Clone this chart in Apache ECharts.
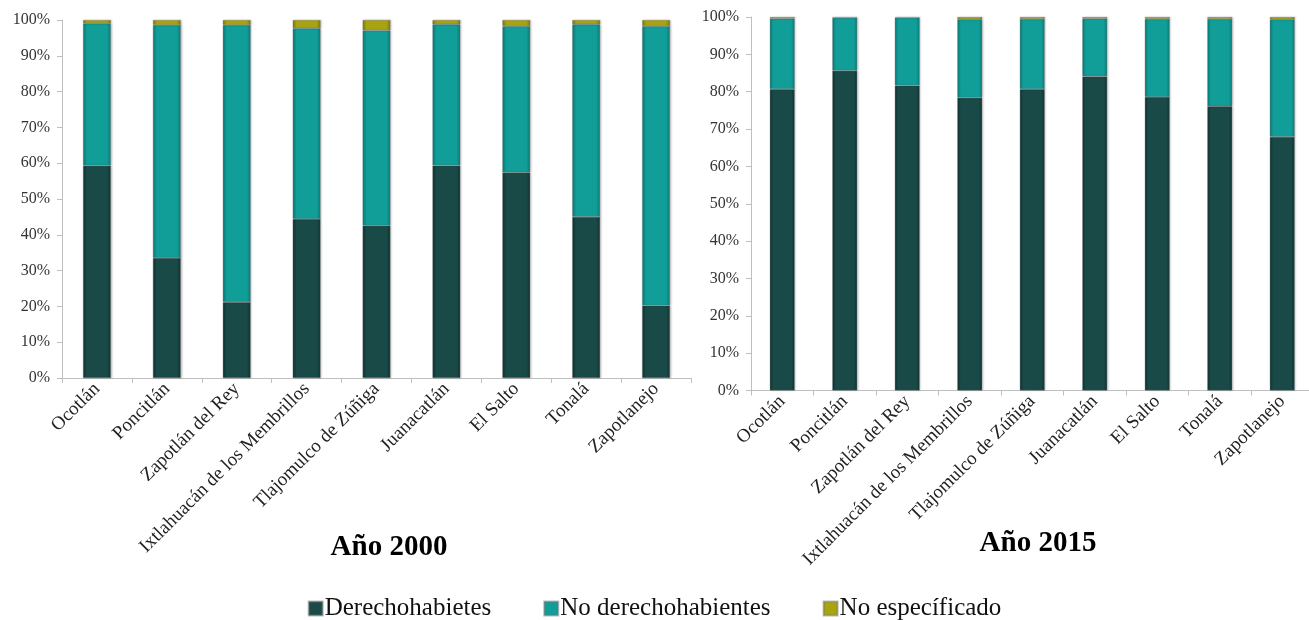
<!DOCTYPE html>
<html>
<head>
<meta charset="utf-8">
<script src="https://cdn.jsdelivr.net/npm/echarts@6/dist/echarts.min.js"></script>
<style>
html,body{margin:0;padding:0;background:#fff;}
#c{width:1309px;height:620px;}
</style>
</head>
<body>
<div id="c"></div>
<script>
const categories = ["Ocotlán","Poncitlán","Zapotlán del Rey","Ixtlahuacán de los Membrillos","Tlajomulco de Zúñiga","Juanacatlán","El Salto","Tonalá","Zapotlanejo"];
const seriesNames = ["Derechohabietes","No derechohabientes","No específicado"];
const titles = ["Año 2000","Año 2015"];
const yTicks = [0,10,20,30,40,50,60,70,80,90,100];

const der2000   = [59.3, 33.5, 21.2, 44.4, 42.6, 59.4, 57.4, 45.0, 20.3];
const noDer2000 = [39.8, 65.1, 77.4, 53.3, 54.5, 39.4, 40.9, 53.8, 78.0];
const noEsp2000 = [0.9, 1.4, 1.4, 2.3, 2.9, 1.2, 1.7, 1.2, 1.7];

const der2015   = [80.7, 85.6, 81.7, 78.4, 80.7, 84.1, 78.6, 76.1, 67.9];
const noDer2015 = [18.9, 14.2, 18.1, 21.0, 18.8, 15.5, 20.9, 23.4, 31.5];
const noEsp2015 = [0.4, 0.2, 0.2, 0.6, 0.5, 0.4, 0.5, 0.5, 0.6];

const FONT = "'Liberation Serif','DejaVu Serif',serif";

function grad(edge, base){
  return {type:'linear',x:0,y:0,x2:1,y2:0,colorStops:[
    {offset:0,color:edge},{offset:0.14,color:base},{offset:0.86,color:base},{offset:1,color:edge}]};
}
const colors = [grad('#0e3230','#1a4a48'), grad('#0a7a76','#119d98'), grad('#7c7808','#a8a30f')];

function mkSeries(gi, arrs){
  return arrs.map((d,i)=>({
    name: seriesNames[i], type:'bar', stack:'s'+gi, xAxisIndex:gi, yAxisIndex:gi,
    data:d, barWidth:'40%',
    itemStyle:{color:colors[i], borderColor:'rgba(120,120,120,0.5)', borderWidth:0.6,
      shadowColor:'rgba(0,0,0,0.25)', shadowBlur:2, shadowOffsetX:1},
    emphasis:{disabled:true}
  }));
}

function xAxis(gi){
  return {type:'category', gridIndex:gi, data:categories,
    axisLine:{lineStyle:{color:'#bfbfbf'}},
    axisTick:{show:true, length:5, alignWithLabel:false, lineStyle:{color:'#bfbfbf'}},
    axisLabel:{rotate:45, interval:0, margin:8, fontFamily:FONT, fontSize:19, color:'#222'}};
}
function yAxis(gi){
  return {type:'value', gridIndex:gi, min:yTicks[0], max:yTicks[yTicks.length-1], interval:10,
    axisLine:{show:true, lineStyle:{color:'#bfbfbf'}},
    axisTick:{show:true, length:5, lineStyle:{color:'#bfbfbf'}},
    splitLine:{show:false},
    axisLabel:{formatter:'{value}%', margin:12, fontFamily:FONT, fontSize:16, color:'#333'}};
}

const chart = echarts.init(document.getElementById('c'), null, {renderer:'canvas'});
chart.setOption({
  animation:false,
  backgroundColor:'#fff',
  title:[
    {text:titles[0], left:384, top:528, textAlign:'center',
     textStyle:{fontFamily:FONT, fontSize:29, fontWeight:'bold', color:'#000'}},
    {text:titles[1], left:1033, top:524, textAlign:'center',
     textStyle:{fontFamily:FONT, fontSize:29, fontWeight:'bold', color:'#000'}}
  ],
  legend:{data:seriesNames, left:'center', top:591, icon:'rect', itemWidth:14, itemHeight:14, itemGap:52,
    textStyle:{fontFamily:FONT, fontSize:25, color:'#111', padding:[0,0,0,-3]}},
  grid:[
    {left:62, top:20, width:629, height:358, outerBoundsMode:'none', containLabel:false},
    {left:751, top:17, width:562.5, height:373.5, outerBoundsMode:'none', containLabel:false}
  ],
  xAxis:[xAxis(0), xAxis(1)],
  yAxis:[yAxis(0), yAxis(1)],
  series:[].concat(mkSeries(0,[der2000,noDer2000,noEsp2000]), mkSeries(1,[der2015,noDer2015,noEsp2015]))
});
</script>
</body>
</html>
